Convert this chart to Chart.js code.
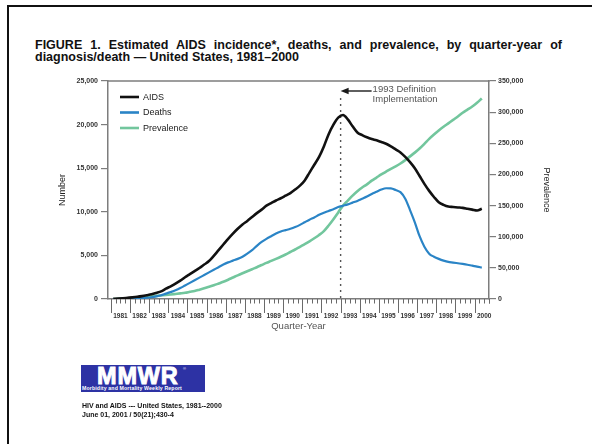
<!DOCTYPE html>
<html>
<head>
<meta charset="utf-8">
<title>AIDS incidence, deaths, and prevalence, 1981-2000</title>
<script src="https://cdn.jsdelivr.net/npm/chart.js@4.4.1/dist/chart.umd.min.js"></script>
<style>
  html, body { margin: 0; padding: 0; background: #fff; }
  body { position: relative; width: 592px; height: 444px; font-family: "Liberation Sans", Arial, sans-serif; }
  .rule { position: absolute; background: #111; }
  #ruleTop { left: 7px; top: 5px; width: 585px; height: 2px; }
  #ruleLeft { left: 7px; top: 5px; width: 2px; height: 439px; }
  #title { position: absolute; left: 35px; top: 40px; width: 527px; font-weight: bold; font-size: 12.5px;
           line-height: 11.5px; color: #111; text-align: justify; text-align-last: left; }
  #chart { position: absolute; left: 0; top: 0; display: block; }
  #logo { position: absolute; left: 81px; top: 365px; width: 124px; height: 27px; background: #2d32a4; color: #fff; overflow: hidden; }
  #logo .big { position: absolute; left: 16px; top: 0px; font-weight: bold; font-size: 23.5px; line-height: 23px; letter-spacing: 0.8px;
               -webkit-text-stroke: 0.9px #fff; }
  #logo .reg { position: absolute; left: 102px; top: 2px; font-size: 4px; line-height: 4px; }
  #logo .small { position: absolute; left: 1px; top: 21px; font-size: 5.2px; line-height: 5px; font-weight: bold; white-space: nowrap; letter-spacing: 0.15px; }
  #cite { position: absolute; left: 82px; top: 401px; font-size: 7px; font-weight: bold; line-height: 9px; color: #111; white-space: nowrap; }
</style>
</head>
<body>
<div class="rule" id="ruleTop"></div>
<div class="rule" id="ruleLeft"></div>
<div id="title">FIGURE 1. Estimated AIDS incidence*, deaths, and prevalence, by quarter-year of diagnosis/death — United States, 1981–2000</div>
<canvas id="chart" width="592" height="444"></canvas>
<div id="logo"><span class="big">MMWR</span><span class="reg">®</span><span class="small">Morbidity and Mortality Weekly Report</span></div>
<div id="cite">HIV and AIDS --- United States, 1981--2000<br>June 01, 2001 / 50(21);430-4</div>

<script>
// Year categories; each year has four quarters (data run through 2000 Q2)
const years = [1981, 1982, 1983, 1984, 1985, 1986, 1987, 1988, 1989, 1990,
               1991, 1992, 1993, 1994, 1995, 1996, 1997, 1998, 1999, 2000];
const quartersPerYear = 4;

// Estimated AIDS incidence by quarter of diagnosis (left axis)
const aidsCases = [
     20,    50,    90,   140,   // 1981
    190,   250,   330,   430,   // 1982
    540,   700,   880,  1180,   // 1983
   1450,  1750,  2100,  2500,   // 1984
   2850,  3200,  3550,  3950,   // 1985
   4350,  4950,  5600,  6250,   // 1986
   6900,  7500,  8050,  8550,   // 1987
   8950,  9400,  9850, 10250,   // 1988
  10700, 11000, 11300, 11550,   // 1989
  11850, 12150, 12550, 13000,   // 1990
  13600, 14500, 15400, 16300,   // 1991
  17500, 18900, 20000, 20800,   // 1992
  21100, 20600, 19800, 19100,   // 1993
  18800, 18550, 18350, 18200,   // 1994
  18000, 17800, 17500, 17150,   // 1995
  16800, 16300, 15700, 15000,   // 1996
  14100, 13200, 12400, 11700,   // 1997
  11100, 10800, 10600, 10550,   // 1998
  10500, 10450, 10350, 10250,   // 1999
  10150, 10350                  // 2000
];

// Estimated deaths by quarter (left axis)
const deaths = [
      0,     0,    10,    20,   // 1981
     40,    70,   100,   140,   // 1982
    200,   300,   430,   620,   // 1983
    800,  1000,  1250,  1550,   // 1984
   1850,  2150,  2450,  2750,   // 1985
   3050,  3350,  3650,  3950,   // 1986
   4200,  4400,  4600,  4850,   // 1987
   5200,  5600,  6100,  6550,   // 1988
   6900,  7200,  7500,  7750,   // 1989
   7900,  8050,  8250,  8500,   // 1990
   8800,  9100,  9350,  9650,   // 1991
   9900, 10100, 10300, 10550,   // 1992
  10700, 10850, 11050, 11250,   // 1993
  11500, 11750, 12050, 12300,   // 1994
  12550, 12700, 12680, 12500,   // 1995
  12250, 11500, 10200,  8800,   // 1996
   7200,  6000,  5200,  4850,   // 1997
   4600,  4400,  4250,  4180,   // 1998
   4100,  4020,  3930,  3820,   // 1999
   3720,  3600                  // 2000
];

// Estimated persons living with AIDS (right axis)
const prevalence = [
       0,    200,    500,    900,   // 1981
    1300,   1900,   2600,   3600,   // 1982
    4300,   5000,   5700,   6400,   // 1983
    7200,   8100,   9000,  10000,   // 1984
   11500,  13000,  15000,  17100,   // 1985
   19500,  22000,  24800,  27700,   // 1986
   31000,  34500,  38000,  41300,   // 1987
   44500,  47800,  51000,  54500,   // 1988
   58000,  61200,  64500,  67900,   // 1989
   71500,  75500,  79500,  83800,   // 1990
   88000,  92500,  97500, 102800,   // 1991
  109000, 118000, 128000, 139000,   // 1992
  150000, 158000, 166000, 173000,   // 1993
  179000, 184000, 190000, 195000,   // 1994
  200000, 204500, 209000, 213000,   // 1995
  217500, 223000, 229000, 235000,   // 1996
  241500, 249000, 257000, 264000,   // 1997
  270500, 276500, 282000, 287500,   // 1998
  293000, 299000, 304000, 309000,   // 1999
  315000, 322000                    // 2000
];

const seriesNames = ['AIDS', 'Deaths', 'Prevalence'];
const seriesColors = ['#111111', '#2a84c6', '#72c69d'];
const leftTicks = [0, 5000, 10000, 15000, 20000, 25000];
const rightTicks = [0, 50000, 100000, 150000, 200000, 250000, 300000, 350000];
const definitionChange = 1993;   // 1993 case-definition expansion
const noteLines = ['1993 Definition', 'Implementation'];

// quarter boundaries on the time axis (year, year + .25, ...)
const quarterTicks = [];
years.forEach(y => { for (let q = 0; q < quartersPerYear; q++) quarterTicks.push(y + q / quartersPerYear); });

// place each quarterly value at the middle of its quarter
const toPoints = arr => arr.map((v, i) => ({
  x: years[Math.floor(i / quartersPerYear)] + ((i % quartersPerYear) + 0.5) / quartersPerYear,
  y: v
}));

const FONT = '"Liberation Sans", Arial, sans-serif';
Chart.defaults.font.family = FONT;

const decor = {
  id: 'decor',
  beforeDatasetsDraw(chart) {
    const { ctx, chartArea: a, scales: { x } } = chart;
    ctx.save();
    // upper edge of the plot box
    ctx.strokeStyle = '#7d7d7d';
    ctx.lineWidth = 1.5;
    ctx.beginPath();
    ctx.moveTo(a.left, a.top);
    ctx.lineTo(a.right + 0.75, a.top);
    ctx.stroke();
    // dotted marker for the definition change
    const xm = x.getPixelForValue(definitionChange);
    ctx.setLineDash([2, 4]);
    ctx.lineWidth = 1.4;
    ctx.strokeStyle = '#555';
    ctx.beginPath();
    ctx.moveTo(xm, a.top + 17);
    ctx.lineTo(xm, a.bottom);
    ctx.stroke();
    ctx.restore();
  },
  afterDatasetsDraw(chart) {
    const { ctx, chartArea: a, scales: { x } } = chart;
    ctx.save();
    // legend in the upper-left corner of the plot
    ctx.font = '9px ' + FONT;
    ctx.textBaseline = 'middle';
    chart.data.datasets.forEach((ds, i) => {
      const yy = a.top + 16 + i * 15.5;
      ctx.strokeStyle = ds.borderColor;
      ctx.lineWidth = 2.6;
      ctx.beginPath();
      ctx.moveTo(a.left + 12, yy);
      ctx.lineTo(a.left + 31, yy);
      ctx.stroke();
      ctx.fillStyle = '#1a1a1a';
      ctx.fillText(ds.label, a.left + 35, yy + 0.5);
    });
    // arrow and note for the definition change
    const xm = x.getPixelForValue(definitionChange);
    const ya = a.top + 10;
    ctx.strokeStyle = '#1a1a1a';
    ctx.fillStyle = '#1a1a1a';
    ctx.lineWidth = 1.4;
    ctx.beginPath();
    ctx.moveTo(xm + 6, ya);
    ctx.lineTo(xm + 31, ya);
    ctx.stroke();
    ctx.beginPath();
    ctx.moveTo(xm, ya);
    ctx.lineTo(xm + 8, ya - 3.2);
    ctx.lineTo(xm + 8, ya + 3.2);
    ctx.closePath();
    ctx.fill();
    ctx.fillStyle = '#555';
    ctx.font = '9.5px ' + FONT;
    ctx.fillText(noteLines[0], xm + 32, ya - 1.5);
    ctx.fillText(noteLines[1], xm + 32, ya + 8.5);
    ctx.restore();
  },
  afterDraw(chart) {
    const { ctx, chartArea: a, scales: { x } } = chart;
    ctx.save();
    ctx.strokeStyle = '#6a6a6a';
    ctx.lineWidth = 1;
    quarterTicks.concat([years[years.length - 1] + 0.75]).forEach(v => {
      const px = Math.round(x.getPixelForValue(v)) + 0.5;
      const len = Number.isInteger(v) ? 14 : 4.5;
      ctx.beginPath();
      ctx.moveTo(px, a.bottom);
      ctx.lineTo(px, a.bottom + len);
      ctx.stroke();
    });
    ctx.restore();
  }
};

const tickFont = { size: 7, weight: 'bold' };
const numberFmt = v => Number(v).toLocaleString('en-US');

new Chart(document.getElementById('chart'), {
  type: 'line',
  data: {
    datasets: [
      { label: seriesNames[0], data: toPoints(aidsCases), borderColor: seriesColors[0], borderWidth: 2.6, yAxisID: 'y' },
      { label: seriesNames[1], data: toPoints(deaths), borderColor: seriesColors[1], borderWidth: 2.2, yAxisID: 'y' },
      { label: seriesNames[2], data: toPoints(prevalence), borderColor: seriesColors[2], borderWidth: 2.6, yAxisID: 'y1' }
    ]
  },
  options: {
    responsive: false,
    animation: false,
    devicePixelRatio: 1,
    layout: { padding: { left: 50, right: 40, top: 81, bottom: 112 } },
    elements: { point: { radius: 0 }, line: { tension: 0.35, cubicInterpolationMode: 'monotone' } },
    plugins: { legend: { display: false }, tooltip: { enabled: false } },
    scales: {
      x: {
        type: 'linear',
        min: 1980.85,
        max: 2000.75,
        afterBuildTicks: s => { s.ticks = quarterTicks.map(v => ({ value: v })); },
        afterFit: s => { s.height = 33; },
        grid: { display: false },
        border: { display: true, color: '#7d7d7d', width: 1.5 },
        ticks: {
          autoSkip: false, maxRotation: 0, minRotation: 0, padding: 5.5,
          font: { size: 6.5, weight: 'bold' }, color: '#333',
          callback: v => (years.includes(v - 0.5) ? String(v - 0.5) : '')
        },
        title: { display: true, text: 'Quarter-Year', color: '#555', font: { size: 9.5 }, padding: { top: 0, bottom: 0 } }
      },
      y: {
        position: 'left',
        min: 0, max: 25000,
        afterBuildTicks: s => { s.ticks = leftTicks.map(v => ({ value: v })); },
        afterFit: s => { s.width = 58; },
        grid: { drawOnChartArea: false, tickLength: 7, color: '#7d7d7d', lineWidth: 1.2 },
        border: { display: true, color: '#7d7d7d', width: 1.5 },
        ticks: { padding: 3, font: tickFont, color: '#333', callback: numberFmt },
        title: { display: true, text: 'Number', color: '#222', font: { size: 9 }, padding: { top: 7 } }
      },
      y1: {
        position: 'right',
        min: 0, max: 350000,
        afterBuildTicks: s => { s.ticks = rightTicks.map(v => ({ value: v })); },
        afterFit: s => { s.width = 63; },
        grid: { drawOnChartArea: false, tickLength: 7, color: '#7d7d7d', lineWidth: 1.2 },
        border: { display: true, color: '#7d7d7d', width: 1.5 },
        ticks: { padding: 2, font: tickFont, color: '#333', callback: numberFmt },
        title: { display: true, text: 'Prevalence', color: '#222', font: { size: 9 }, padding: { top: 0 } }
      }
    }
  },
  plugins: [decor]
});
</script>
</body>
</html>
